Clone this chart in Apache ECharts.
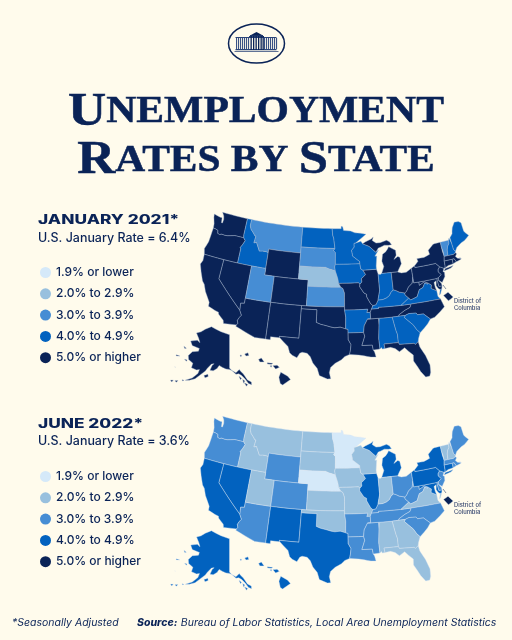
<!DOCTYPE html>
<html><head><meta charset="utf-8">
<style>html,body{margin:0;padding:0;background:#fffbec}#c{width:512px;height:640px}</style>
<script src="https://cdn.jsdelivr.net/npm/echarts@6/dist/echarts.min.js"></script>
</head><body><div id="c"></div>
<script>
// ---- data: each state's rate band (value = middle of the band) ----
const stateCodes = ['WA','OR','CA','NV','ID','MT','WY','UT','AZ','CO','NM','ND','SD','NE','KS','OK','TX','MN','IA','MO','AR','LA','WI','IL','MI','IN','OH','KY','TN','MS','AL','GA','FL','SC','NC','VA','WV','PA','NY','VT','NH','ME','MA','RI','CT','NJ','DE','MD','DC','AK','HI'];
const jan2021Rates = [5.5,5.5,5.5,5.5,4.5,3.5,5.5,3.5,5.5,5.5,5.5,4.5,3.5,2.5,3.5,5.5,5.5,4.5,4.5,5.5,4.5,5.5,4.5,5.5,5.5,4.5,5.5,4.5,5.5,5.5,4.5,4.5,5.5,4.5,5.5,4.5,5.5,5.5,5.5,3.5,4.5,4.5,5.5,5.5,5.5,5.5,5.5,5.5,5.5,5.5,5.5];
const jun2022Rates = [3.5,3.5,4.5,4.5,2.5,2.5,3.5,2.5,3.5,3.5,4.5,2.5,2.5,1.5,2.5,2.5,4.5,1.5,2.5,2.5,3.5,3.5,2.5,4.5,4.5,2.5,3.5,3.5,3.5,3.5,2.5,2.5,2.5,3.5,3.5,2.5,3.5,4.5,4.5,2.5,2.5,3.5,3.5,3.5,4.5,3.5,3.5,4.5,5.5,4.5,4.5];
const legendLabels = ['1.9% or lower','2.0% to 2.9%','3.0% to 3.9%','4.0% to 4.9%','5.0% or higher'];
const bandColors = ['#d5e9f9','#98c0de','#468dd4','#0262bf','#0a2357'];
const NAVY = '#0a2357', BG = '#fffbec';

// ---- state outlines: "degrees west,degrees north" ----
const S = {
WA:['123,49 117.03,49 117.04,46.42 116.92,45.99 118.98,46 119.3,45.93 120.5,45.7 121.2,45.65 121.8,45.7 122.3,45.55 122.75,45.65 122.9,46.1 123.4,46.2 124,46.27 124.1,46.9 124.6,47.9 124.7,48.38 123.2,48.15 122.75,48.15 122.6,47.4 122.35,47.4 122.3,48 122.5,48.5'],
OR:['124,46.27 123.4,46.2 122.9,46.1 122.75,45.65 122.3,45.55 121.8,45.7 121.2,45.65 120.5,45.7 119.3,45.93 118.98,46 116.92,45.99 116.47,45.6 116.85,44.9 117.2,44.4 117.03,44.25 117.03,42 120,42 124.21,42 124.55,42.84 124.1,44 124.05,45'],
ID:['117.03,49 116.05,49 116.05,48 115.7,47.5 115,47 114.6,46.65 114.35,46.65 114.5,45.55 113.95,45.7 113.45,45.05 113,44.45 112.3,44.55 111.5,44.55 111.05,44.47 111.05,42 114.04,42 117.03,42 117.03,44.25 117.2,44.4 116.85,44.9 116.47,45.6 116.92,45.99 117.04,46.42'],
MT:['116.05,49 104.05,49 104.05,45 111.05,45 111.05,44.47 111.5,44.55 112.3,44.55 113,44.45 113.45,45.05 113.95,45.7 114.5,45.55 114.35,46.65 114.6,46.65 115,47 115.7,47.5 116.05,48'],
WY:['111.05,45 104.05,45 104.05,41 109.05,41 111.05,41'],
NV:['120,42 114.04,42 114.04,37 114.04,36.2 114.75,36.1 114.63,35 120,39'],
CA:['124.21,42 120,42 120,39 114.63,35 114.15,34.3 114.5,33.9 114.72,33.4 114.52,33 114.72,32.72 117.12,32.53 117.3,33 118.4,33.75 118.5,34.03 119.2,34.15 120.6,34.55 120.65,35.15 121.9,36.6 122.5,37.6 123,38 123.8,39.3 124.4,40.4 124.1,41'],
AZ:['114.04,37 109.05,37 109.05,31.33 111.07,31.33 114.81,32.5 114.72,32.72 114.52,33 114.72,33.4 114.5,33.9 114.15,34.3 114.63,35 114.75,36.1 114.04,36.2'],
UT:['114.04,42 111.05,42 111.05,41 109.05,41 109.05,37 114.04,37'],
CO:['109.05,41 104.05,41 102.05,41 102.05,40 102.05,37 103,37 109.05,37'],
NM:['109.05,37 103,37 103,36.5 103.05,32 106.62,32 106.53,31.78 108.21,31.78 108.21,31.33 109.05,31.33'],
ND:['104.05,49 97.23,49 97.1,48 96.85,47.5 96.56,45.94 104.05,45.94'],
SD:['104.05,45.94 96.56,45.94 96.85,45.6 96.45,45.3 96.45,43.5 96.6,43.1 96.45,42.49 97.9,42.8 98.5,43 104.05,43'],
NE:['104.05,43 98.5,43 97.9,42.8 96.45,42.49 96.1,41.7 95.9,41.2 95.77,40.58 95.31,40 102.05,40 102.05,41 104.05,41'],
KS:['102.05,40 95.31,40 94.9,39.8 94.6,39.1 94.62,37 102.05,37'],
OK:['103,37 94.62,37 94.62,36.5 94.43,35.4 94.48,33.64 95.5,33.9 96.5,33.8 97.2,33.9 98.1,34.1 99.2,34.3 100,34.56 100,36.5 103,36.5'],
TX:['103,36.5 100,36.5 100,34.56 99.2,34.3 98.1,34.1 97.2,33.9 96.5,33.8 95.5,33.9 94.48,33.64 94.04,33.55 94.04,33 94.04,31.99 93.55,31.2 93.7,30.3 93.85,29.7 94.7,29.4 95.3,28.9 96.4,28.35 97.2,27.7 97.4,26.9 97.15,25.96 97.7,25.9 99.1,26.4 99.5,27.5 100.3,28.3 100.8,29.25 101.4,29.77 102.3,29.88 102.7,29.7 103.15,28.98 104,29.3 104.5,29.65 104.9,30.6 106.53,31.78 106.62,32 103.05,32'],
MN:['97.23,49 95.15,49 95.15,49.38 94.8,49.3 94.6,48.72 93,48.6 92,48.3 90.8,48.2 89.5,48 92,46.7 92.3,46.66 92.29,46.1 92.9,45.6 92.75,45 92.75,44.75 91.25,43.85 91.22,43.5 96.45,43.5 96.45,45.3 96.85,45.6 96.56,45.94 96.85,47.5 97.1,48'],
IA:['96.45,43.5 91.22,43.5 91.1,42.7 90.65,42.5 90.15,41.8 91.05,41.2 91,40.7 91.42,40.38 91.72,40.6 95.77,40.58 95.9,41.2 96.1,41.7 96.45,42.49 96.6,43.1'],
MO:['95.77,40.58 91.72,40.6 91.42,40.38 91.5,40 90.7,39 90.2,38.8 90.2,38.4 89.5,37.3 89.1,37 89.4,36.5 89.7,36 90.37,36 90.15,36.5 94.62,36.5 94.62,37 94.6,39.1 94.9,39.8 95.31,40'],
AR:['94.62,36.5 90.15,36.5 90.37,36 89.7,36 89.7,35 90.3,35 91,34 91.17,33 94.04,33 94.04,33.55 94.48,33.64 94.43,35.4'],
LA:['94.04,33 91.17,33 91,32.4 91.6,31 89.73,31 89.6,30.2 89.4,29.9 89.2,29.1 90.1,29.15 91.3,29.4 92.2,29.55 93.85,29.7 93.7,30.3 93.55,31.2 94.04,31.99'],
MS:['90.3,35 88.2,35 88.1,34.9 88.47,31.9 88.4,30.3 89.6,30.2 89.73,31 91.6,31 91,32.4 91.17,33 91,34'],
AL:['88.2,35 85.6,34.98 85.18,32.87 85,32.3 85,31 87.6,31 87.5,30.3 88,30.25 88.1,30.5 88.4,30.3 88.47,31.9 88.1,34.9'],
TN:['90.3,35 89.7,35 89.7,36 89.4,36.5 88.05,36.5 88.05,36.68 83.68,36.6 81.68,36.59 82,36.1 83.1,35.75 84.3,35.2 84.32,35 85.6,34.98 88.2,35'],
KY:['89.4,36.5 89.1,37 88.5,37.1 88,37.8 87.1,37.8 86.3,38 85.7,38.3 85.4,38.7 84.81,39.1 84.3,38.95 83.7,38.65 82.6,38.4 82.6,38.1 81.97,37.54 83.68,36.6 88.05,36.68 88.05,36.5'],
IL:['90.65,42.5 87.8,42.5 87.53,41.72 87.53,39.35 87.6,39 87.95,38 88,37.8 88.5,37.1 89.1,37 89.5,37.3 90.2,38.4 90.2,38.8 90.7,39 91.5,40 91.42,40.38 91,40.7 91.05,41.2 90.15,41.8'],
WI:['92,46.7 90.75,46.95 90.4,46.55 89,46.1 87.6,45.1 87,45.4 87.9,44.5 87.5,44.5 87.8,43 87.8,42.5 90.65,42.5 91.1,42.7 91.22,43.5 91.25,43.85 92.75,44.75 92.75,45 92.9,45.6 92.29,46.1 92.3,46.66'],
MI:['90.4,46.55 89.8,46.8 88.4,47.2 87.9,47.47 88.2,46.95 87.4,46.5 86.5,46.5 85,46.75 84.4,46.5 84,46 84.7,45.95 85.6,46.05 86.5,45.8 87,45.7 87.6,45.1 89,46.1','86.8,41.76 84.8,41.76 83.45,41.73 83.15,42.1 82.45,42.9 82.6,43.9 83,44.07 83.9,43.7 83.3,44.3 83.3,45.05 84.7,45.75 85,45.4 85.5,45 86.2,44.7 86.5,43.65 86.2,42.8'],
IN:['87.53,41.72 87.1,41.65 86.8,41.76 84.8,41.76 84.81,39.1 85.4,38.7 85.7,38.3 86.3,38 87.1,37.8 88,37.8 87.95,38 87.6,39 87.53,39.35'],
OH:['84.8,41.76 83.45,41.73 82.7,41.5 81.7,41.5 80.52,41.98 80.52,40.64 80.65,40.2 80.85,39.7 81.7,39.2 82.2,38.6 82.6,38.4 83.7,38.65 84.3,38.95 84.81,39.1'],
WV:['80.52,40.64 80.52,39.72 79.48,39.72 79.48,39.2 78.4,39.62 77.72,39.32 77.83,39.13 78.35,39.4 78.87,38.76 79.65,38.55 80.3,37.55 81.68,37.2 81.97,37.54 82.6,38.1 82.6,38.4 82.2,38.6 81.7,39.2 80.85,39.7 80.65,40.2'],
VA:['83.68,36.6 81.97,37.54 81.68,37.2 80.3,37.55 79.65,38.55 78.87,38.76 78.35,39.4 77.83,39.13 77.72,39.32 77.1,38.9 77.3,38.4 76.3,37.9 76.3,37 75.9,36.55 81.68,36.59','75.95,37.15 75.6,37.95 75.25,38.03 75.7,37.3'],
NC:['84.32,35 84.3,35.2 83.1,35.75 82,36.1 81.68,36.59 75.9,36.55 75.5,35.25 76.5,34.65 77.7,34 78.55,33.86 79.67,34.8 80.8,34.82 81,35.1 82.35,35.2 83.1,35'],
SC:['83.1,35 82.35,35.2 81,35.1 80.8,34.82 79.67,34.8 78.55,33.86 79.2,33.2 80,32.6 80.85,32.05 81.4,32.6 81.9,33.4 83.35,34.7'],
GA:['85.6,34.98 84.32,35 83.1,35 83.35,34.7 81.9,33.4 81.4,32.6 80.85,32.05 81.3,31.2 81.45,30.72 82.05,30.36 82.2,30.57 84.86,30.7 85,31 85,32.3 85.18,32.87'],
FL:['87.6,31 85,31 84.86,30.7 82.2,30.57 82.05,30.36 81.45,30.72 81.3,29.9 80.55,28.45 80.05,26.9 80.15,25.75 80.4,25.2 81.1,25.15 81.8,26.1 82.2,26.9 82.75,27.9 82.65,28.8 83.4,29.5 84,30.1 85,29.6 85.7,30.15 86.5,30.4 87.5,30.3'],
MD:['79.48,39.72 75.79,39.72 75.7,38.46 75.05,38.45 75.25,38.03 75.6,37.95 75.95,38.2 76.2,38.7 76,39.4 76.5,39.2 76.45,38.4 76.3,37.9 77.3,38.4 77.1,38.9 77.72,39.32 78.4,39.62 79.48,39.2'],
DE:['75.79,39.72 75.4,39.8 75.55,39.45 75.1,38.8 75.05,38.45 75.7,38.46'],
PA:['80.52,41.98 79.76,42.27 79.76,42 75.35,42 74.7,41.36 75.13,40.98 75.2,40.65 74.72,40.15 75.4,39.8 75.79,39.72 79.48,39.72 80.52,39.72 80.52,40.64'],
NJ:['74.7,41.36 73.9,41 74.25,40.5 73.98,40.4 74.1,39.75 74.9,38.93 75.55,39.45 75.4,39.8 74.72,40.15 75.2,40.65 75.13,40.98'],
NY:['79.76,42.27 78.9,42.85 79.05,43.27 77.5,43.27 76.2,43.55 76.3,44.2 75,44.95 74.7,45 73.35,45 73.4,43.6 73.25,43.55 73.27,42.75 73.5,42.05 73.55,41.3 73.65,41 73.9,41 74.7,41.36 75.35,42 79.76,42','74,40.6 72.5,40.8 71.9,41.07 72.6,40.98 73.65,40.9'],
VT:['73.35,45 71.5,45 71.6,44.5 72.05,44.1 72.3,43.6 72.46,42.73 73.27,42.75 73.25,43.55 73.4,43.6'],
NH:['71.5,45 71.3,45.3 71.08,45.3 70.98,43.4 70.7,43.07 70.82,42.87 71.3,42.7 72.46,42.73 72.3,43.6 72.05,44.1 71.6,44.5'],
ME:['71.08,45.3 70.4,45.8 70.25,46.2 70,46.7 69.23,47.45 68.3,47.35 67.8,47.07 67.78,45.7 67.45,45.3 67,44.85 68.2,44.3 69,44.1 70.2,43.6 70.7,43.07 70.98,43.4'],
MA:['73.5,42.05 73.27,42.75 72.46,42.73 71.3,42.7 70.82,42.87 70.6,42.65 71,42.3 70.65,41.95 70.5,41.78 70,41.78 70.2,42.07 69.95,41.7 70.65,41.55 71.1,41.5 71.38,42.02 71.8,42.02'],
RI:['71.8,42.02 71.38,42.02 71.1,41.5 71.85,41.32'],
CT:['73.5,42.05 71.8,42.02 71.85,41.32 72.9,41.25 73.65,41 73.55,41.3'],
DC:['75.2,36.95 74.2,37.3 73.45,36.4 74.5,36'],
AK:['141,69.65 141,60.3 139.9,59.7 137.5,58.9 135.5,59.8 135,59.3 133.5,58.4 131.8,56.6 130,55.9 130.1,55.1 131.5,55.6 133,57 134.5,58 136,58.6 137.5,58.5 139.5,59.5 141,59.9 143,60 145,60.4 147,60.9 148,60 150,59.2 151.8,59.2 151,60.7 150,61.2 151.5,61 153.5,59.6 154.2,58.8 156.5,57.4 158.5,56 161,55.2 163,54.8 160,56 157.8,57.6 157.5,58.8 159,58.5 162,58.7 162,60 165,60.6 166,61.6 164.5,63 161,63.7 161,64.5 166,64.6 168.1,65.6 164,66.5 161.8,66.1 163.5,67.1 166.5,68.35 163.5,69.1 161,70.2 156.6,71.35 152,70.85 148,70.4',
 '154.5,57.5 152.5,58 152.2,57.4 153.7,56.9','167.2,60.2 165.7,60.3 165.8,59.9','170.8,63.5 168.8,63.3 169.6,63','164.5,54.6 163.5,54.7 164,54.35','167.5,53.6 166.2,54 166.6,53.4','169.5,53.3 168.3,53.6 168.7,52.95','136,57.9 134.7,57.3 135.3,56.9','134.2,56.9 133.2,56.4 133.9,55.8','133.5,55.9 132,55.3 132.7,54.9','170.4,60.5 172.6,60.4 172.2,60.1','170.3,57.25 170,57.1 170.2,57.05'],
HI:['156.05,19.75 155.85,20.25 155.1,19.85 154.8,19.5 155.65,18.95 155.9,19.1','156.7,20.9 156.25,20.95 156,20.75 156.4,20.58','157.3,21.2 156.7,21.15 156.85,21.05 157.3,21.08','158.25,21.55 157.95,21.7 157.65,21.3 158.1,21.3','159.75,22.1 159.4,22.22 159.3,21.95 159.6,21.9','157,20.9 156.8,20.9 156.9,20.75','160.25,22 160.1,22 160.15,21.8']
};

// ---- projection: Albers for the lower 48 plus Alaska and Hawaii insets ----
const rad = Math.PI/180;
function conic(p1,p2,p0,l0){
  const n=(Math.sin(p1*rad)+Math.sin(p2*rad))/2, C=Math.cos(p1*rad)**2+2*n*Math.sin(p1*rad);
  const r0=Math.sqrt(C-2*n*Math.sin(p0*rad))/n;
  return (lon,lat)=>{const r=Math.sqrt(C-2*n*Math.sin(lat*rad))/n, t=n*(lon-l0)*rad; return [r*Math.sin(t), r0-r*Math.cos(t)];};
}
const main48=conic(29.5,45.5,37.5,-96), akCon=conic(55,65,60.3,-141);
function project(p){
  const lon=p[0], lat=p[1];
  if(lat>51){const q=akCon(lon,lat); return [229.5+204*q[0], 368-204*q[1]];}
  if(lat<23 && lon<-150) return [247+564*(lon+159.5)*rad*0.94, 355-564*(lat-22)*rad];
  const q=main48(lon,lat); return [337.5+372*q[0], 303.6-372*q[1]];
}
function ringOf(str,code){
  const pts=str.trim().split(/\s+/).map(s=>{const a=s.split(',');return [-parseFloat(a[0]),parseFloat(a[1])];});
  if(code==='AK'||code==='HI'){pts.push(pts[0]);return pts;}
  const out=[];pts.push(pts[0]);
  for(let i=0;i<pts.length-1;i++){const a=pts[i],b=pts[i+1],m=Math.max(1,Math.ceil(Math.max(Math.abs(a[0]-b[0]),Math.abs(a[1]-b[1]))));
    for(let j=0;j<m;j++)out.push([a[0]+(b[0]-a[0])*j/m,a[1]+(b[1]-a[1])*j/m]);}
  out.push(pts[0]);return out;
}
const features=Object.keys(S).map(code=>({type:'Feature',properties:{name:code},geometry:{type:'MultiPolygon',coordinates:S[code].map(r=>[ringOf(r,code)])}}));
const geoJson={type:'FeatureCollection',features};
echarts.registerMap('usaJan2021',geoJson);
echarts.registerMap('usaJun2022',JSON.parse(JSON.stringify(geoJson)));
let x0=1e9,x1=-1e9,y0=1e9,y1=-1e9;
features.forEach(f=>f.geometry.coordinates.forEach(pg=>pg[0].forEach(c=>{const q=project(c);x0=Math.min(x0,q[0]);x1=Math.max(x1,q[0]);y0=Math.min(y0,q[1]);y1=Math.max(y1,q[1]);})));

const MAP2DY=204;
function mapSeries(name,rates,dy,stroke){return {type:'map',map:name,silent:true,left:x0,top:y0+dy,width:x1-x0,height:y1-y0,
  projection:{project,unproject:p=>p},label:{show:false},emphasis:{disabled:true},select:{disabled:true},
  itemStyle:{borderColor:stroke,borderWidth:0.4},
  data:stateCodes.map((c,i)=>({name:c,value:rates[i]}))};}
const pieces=[{min:1,max:1.99},{min:2,max:2.99},{min:3,max:3.99},{min:4,max:4.99},{min:5,max:99}].map((r,i)=>({...r,label:legendLabels[i],color:bandColors[i]}));
function legend(idx,top){return {type:'piecewise',seriesIndex:idx,left:40,top,orient:'vertical',pieces,inverse:true,selectedMode:false,hoverLink:false,itemSymbol:'circle',itemWidth:11,itemHeight:11,itemGap:9.3,textGap:5,padding:0,showLabel:true,textStyle:{color:NAVY,fontFamily:'Inter',fontSize:12,fontWeight:500}};}

const sans='Inter';
function txt(x,y,text,size,weight,opts){return Object.assign({type:'text',x,y,silent:true,style:{text,fill:NAVY,fontFamily:sans,fontSize:size,fontWeight:weight,verticalAlign:'middle'}},opts||{});}
const gfx=[];
// title
const titleRich={a:{fontSize:47,fontFamily:'Liberation Serif',fontWeight:700,fill:NAVY,stroke:NAVY,lineWidth:0.5},b:{fontSize:37,fontFamily:'Liberation Serif',fontWeight:700,fill:NAVY,stroke:NAVY,lineWidth:0.5}};
gfx.push({type:'text',x:256,y:112.5,scaleX:1.125,silent:true,style:{rich:titleRich,text:'{a|U}{b|NEMPLOYMENT}',align:'center',verticalAlign:'middle',fill:NAVY}});
gfx.push({type:'text',x:256,y:161,scaleX:1.12,silent:true,style:{rich:titleRich,text:'{a|R}{b|ATES BY }{a|S}{b|TATE}',align:'center',verticalAlign:'middle',fill:NAVY}});
// section headings
[[220,'JANUARY 2021*','U.S. January Rate = 6.4%',238],[424,'JUNE 2022*','U.S. January Rate = 3.6%',441]].forEach(s=>{
  gfx.push(txt(38,s[0],s[1],13,800,{scaleX:1.33}));
  gfx.push(txt(38,s[3],s[2],12.45,500));
});
// District of Columbia notes and leaders
[0,MAP2DY].forEach(d=>{
  ['District of','Columbia'].forEach((t,i)=>gfx.push({type:'text',x:454,y:301.5+d+i*7,silent:true,style:{text:t,fill:'#33446f',fontFamily:sans,fontSize:5.8,fontWeight:500,verticalAlign:'middle'}}));
  gfx.push({type:'line',silent:true,shape:{x1:443,y1:285+d,x2:446,y2:289+d},style:{stroke:NAVY,lineWidth:0.5}});
});
// footnote
gfx.push({type:'text',x:12,y:622.5,scaleX:1.03,silent:true,style:{text:'*Seasonally Adjusted',fill:NAVY,fontFamily:sans,fontSize:10.2,fontStyle:'italic',verticalAlign:'middle'}});
gfx.push({type:'text',x:137,y:622.5,scaleX:1.03,silent:true,style:{rich:{s:{fontFamily:sans,fontSize:10.2,fontStyle:'italic',fontWeight:800,fill:NAVY},r:{fontFamily:sans,fontSize:10.2,fontStyle:'italic',fill:NAVY}},text:'{s|Source:} {r|Bureau of Labor Statistics, Local Area Unemployment Statistics}',verticalAlign:'middle',fill:NAVY}});
// seal
gfx.push({type:'ellipse',silent:true,shape:{cx:256.5,cy:43.5,rx:28,ry:19.5},style:{fill:BG,stroke:NAVY,lineWidth:1.5}});
const bld=[[235.5,37,41,1],[235.5,49,41,1.2],[249,36,15,1],[250,35,13,1],[234.5,51,44,0.7]];
bld.forEach(b=>gfx.push({type:'rect',silent:true,shape:{x:b[0],y:b[1],width:b[2],height:b[3]},style:{fill:'#2b4478'}}));
[236,238,240,242,244,246,248,264,266,268,270,272,274,276].forEach(x=>gfx.push({type:'rect',silent:true,shape:{x,y:38,width:1.1,height:11},style:{fill:'#3a5285'}}));
[250.5,253,255.5,258,260.5,262.5].forEach(x=>gfx.push({type:'rect',silent:true,shape:{x,y:36,width:1.3,height:14},style:{fill:NAVY}}));
gfx.push({type:'polygon',silent:true,shape:{points:[[250,35.5],[256.5,32],[263,35.5]]},style:{fill:NAVY}});

const chart=echarts.init(document.getElementById('c'));
chart.setOption({backgroundColor:BG,animation:false,
  visualMap:[legend(0,266.5),legend(1,470.5)],
  series:[mapSeries('usaJan2021',jan2021Rates,0,'#a9bad3'),mapSeries('usaJun2022',jun2022Rates,MAP2DY,'#dce7f3')],
  graphic:gfx});
</script></body></html>
